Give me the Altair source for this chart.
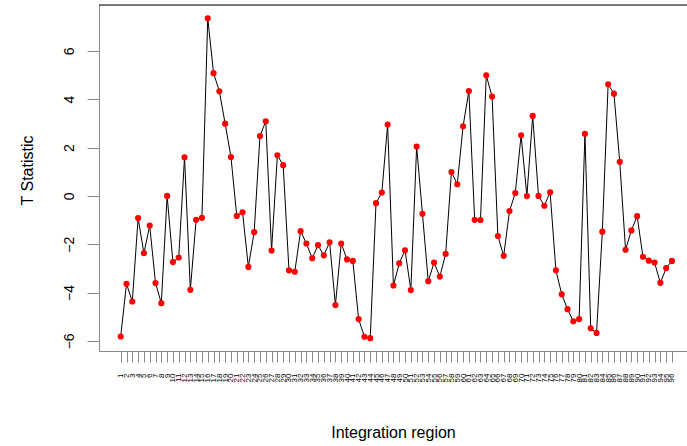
import altair as alt
import pandas as pd

regions = list(range(1, 97))
t_stat = [
    -5.82, -3.64, -4.37, -0.92, -2.37, -1.23, -3.61, -4.44, 0.00, -2.74,
    -2.55, 1.60, -3.89, -0.99, -0.91, 7.35, 5.08, 4.33, 2.99, 1.61,
    -0.83, -0.68, -2.94, -1.50, 2.48, 3.09, -2.26, 1.68, 1.27, -3.08,
    -3.14, -1.46, -1.97, -2.58, -2.04, -2.46, -1.92, -4.52, -1.97, -2.63,
    -2.69, -5.10, -5.83, -5.89, -0.30, 0.14, 2.95, -3.71, -2.79, -2.25,
    -3.90, 2.04, -0.74, -3.53, -2.76, -3.34, -2.40, 0.99, 0.48, 2.88,
    4.34, -0.99, -1.00, 4.99, 4.11, -1.66, -2.48, -0.63, 0.12, 2.51,
    -0.01, 3.31, 0.00, -0.41, 0.15, -3.08, -4.07, -4.69, -5.19, -5.10,
    2.57, -5.48, -5.67, -1.48, 4.62, 4.23, 1.41, -2.23, -1.43, -0.84,
    -2.52, -2.68, -2.76, -3.60, -2.99, -2.69,
]
x_ticks = list(range(1, 97))
y_ticks = [-6, -4, -2, 0, 2, 4, 6]

df = pd.DataFrame({"region": regions, "t": t_stat})

W, H = 588, 346
FONT = "Liberation Sans"

xs = alt.Scale(domain=[-2.74, 98.59], nice=False, zero=False)
ys = alt.Scale(domain=[-6.42, 7.90], nice=False, zero=False)

x_axis = alt.Axis(
    values=x_ticks, tickCount=500, format="d", title="Integration region", grid=False,
    labelAngle=270, labelAlign="right", labelBaseline="middle",
    labelFontSize=8, labelOverlap=False, labelFlush=False,
    tickSize=11, labelPadding=11, titleY=81, titleBaseline="middle",
    titleFontSize=16, titleFontWeight="normal",
)
y_axis = alt.Axis(
    values=y_ticks, tickCount=50, format="d", title="T Statistic", grid=False,
    labelAngle=270, labelAlign="center", labelBaseline="bottom",
    labelFontSize=14, labelOverlap=False, labelFlush=False,
    tickSize=12, labelPadding=11,
    titleX=-72, titleY=165, titleAngle=270, titleAlign="center",
    titleBaseline="middle", titleFontSize=16, titleFontWeight="normal",
)

base = alt.Chart(df)
line = base.mark_line(color="black", strokeWidth=1).encode(
    x=alt.X("region:Q", scale=xs, axis=x_axis),
    y=alt.Y("t:Q", scale=ys, axis=y_axis),
)
points = base.mark_circle(color="red", size=38, opacity=1).encode(
    x=alt.X("region:Q", scale=xs),
    y=alt.Y("t:Q", scale=ys),
)
top_rule = alt.Chart(pd.DataFrame({"a": [0]})).mark_rule(
    color="black", strokeWidth=1
).encode(x=alt.value(0), x2=alt.value(W), y=alt.value(0))

chart = (
    alt.layer(line, points, top_rule)
    .properties(
        width=W, height=H,
        autosize=alt.AutoSizeParams(type="none"),
        padding={"left": 99, "top": 5, "right": 0, "bottom": 95},
    )
    .configure_view(stroke=None)
    .configure_axis(
        labelFont=FONT, titleFont=FONT, labelColor="black", titleColor="black",
        domainColor="black", tickColor="black", domainWidth=1, tickWidth=1,
    )
    .configure(background="white")
)

chart.save("out.html", embed_options={"renderer": "svg", "actions": False})
